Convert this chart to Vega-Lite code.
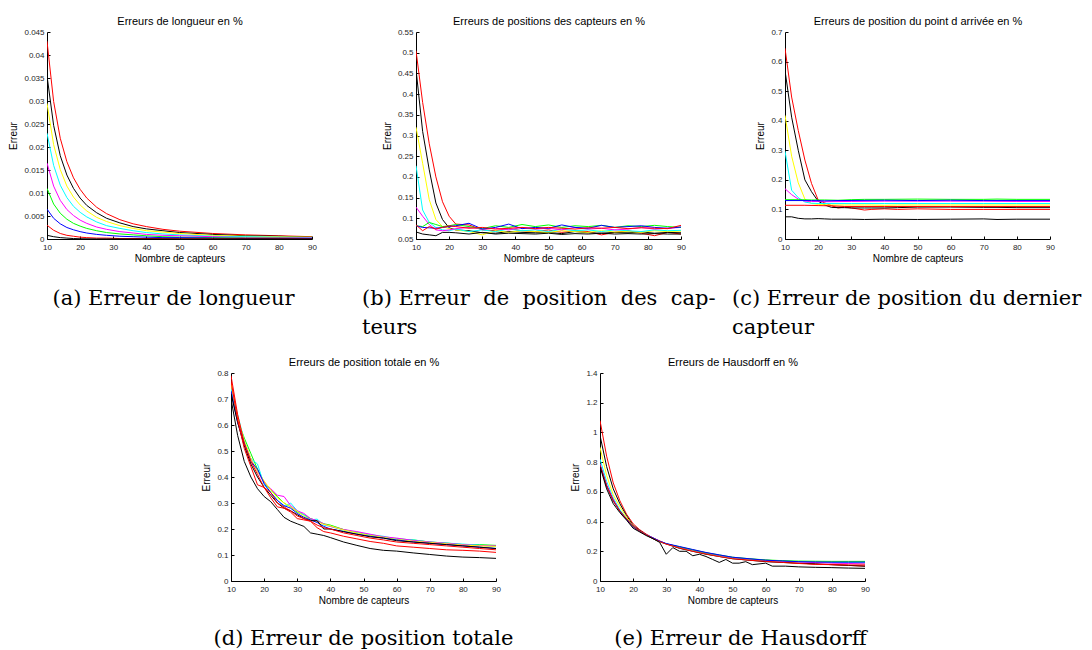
{
"$schema": "https://vega.github.io/schema/vega-lite/v6.json",
"padding": {"left": 8, "top": 15, "right": 0, "bottom": 0},
"background": "white",
"datasets": {
"a": [
{"s":"r1","x":10,"y":0.043},{"s":"r1","x":12,"y":0.0299},{"s":"r1","x":14,"y":0.0219},{"s":"r1","x":16,"y":0.0168},{"s":"r1","x":18,"y":0.0133},{"s":"r1","x":20,"y":0.0108},{"s":"r1","x":22,"y":0.0089},{"s":"r1","x":25,"y":0.0069},{"s":"r1","x":28,"y":0.0055},{"s":"r1","x":32,"y":0.0042},{"s":"r1","x":36,"y":0.0033},{"s":"r1","x":40,"y":0.0027},{"s":"r1","x":45,"y":0.0021},{"s":"r1","x":50,"y":0.0017},{"s":"r1","x":60,"y":0.0012},{"s":"r1","x":70,"y":0.0009},{"s":"r1","x":80,"y":0.0007},{"s":"r1","x":90,"y":0.0005},
{"s":"k1","x":10,"y":0.0355},{"s":"k1","x":12,"y":0.0247},{"s":"k1","x":14,"y":0.0181},{"s":"k1","x":16,"y":0.0139},{"s":"k1","x":18,"y":0.011},{"s":"k1","x":20,"y":0.0089},{"s":"k1","x":22,"y":0.0073},{"s":"k1","x":25,"y":0.0057},{"s":"k1","x":28,"y":0.0045},{"s":"k1","x":32,"y":0.0035},{"s":"k1","x":36,"y":0.0027},{"s":"k1","x":40,"y":0.0022},{"s":"k1","x":45,"y":0.0018},{"s":"k1","x":50,"y":0.0014},{"s":"k1","x":60,"y":0.001},{"s":"k1","x":70,"y":0.0007},{"s":"k1","x":80,"y":0.0006},{"s":"k1","x":90,"y":0.0004},
{"s":"y","x":10,"y":0.0295},{"s":"y","x":12,"y":0.0205},{"s":"y","x":14,"y":0.0151},{"s":"y","x":16,"y":0.0115},{"s":"y","x":18,"y":0.0091},{"s":"y","x":20,"y":0.0074},{"s":"y","x":22,"y":0.0061},{"s":"y","x":25,"y":0.0047},{"s":"y","x":28,"y":0.0038},{"s":"y","x":32,"y":0.0029},{"s":"y","x":36,"y":0.0023},{"s":"y","x":40,"y":0.0018},{"s":"y","x":45,"y":0.0015},{"s":"y","x":50,"y":0.0012},{"s":"y","x":60,"y":0.0008},{"s":"y","x":70,"y":0.0006},{"s":"y","x":80,"y":0.0005},{"s":"y","x":90,"y":0.0004},
{"s":"c","x":10,"y":0.023},{"s":"c","x":12,"y":0.016},{"s":"c","x":14,"y":0.0117},{"s":"c","x":16,"y":0.009},{"s":"c","x":18,"y":0.0071},{"s":"c","x":20,"y":0.0058},{"s":"c","x":22,"y":0.0048},{"s":"c","x":25,"y":0.0037},{"s":"c","x":28,"y":0.0029},{"s":"c","x":32,"y":0.0023},{"s":"c","x":36,"y":0.0018},{"s":"c","x":40,"y":0.0014},{"s":"c","x":45,"y":0.0011},{"s":"c","x":50,"y":0.0009},{"s":"c","x":60,"y":0.0006},{"s":"c","x":70,"y":0.0005},{"s":"c","x":80,"y":0.0004},{"s":"c","x":90,"y":0.0003},
{"s":"m","x":10,"y":0.0165},{"s":"m","x":12,"y":0.0115},{"s":"m","x":14,"y":0.0084},{"s":"m","x":16,"y":0.0064},{"s":"m","x":18,"y":0.0051},{"s":"m","x":20,"y":0.0041},{"s":"m","x":22,"y":0.0034},{"s":"m","x":25,"y":0.0026},{"s":"m","x":28,"y":0.0021},{"s":"m","x":32,"y":0.0016},{"s":"m","x":36,"y":0.0013},{"s":"m","x":40,"y":0.001},{"s":"m","x":45,"y":0.0008},{"s":"m","x":50,"y":0.0007},{"s":"m","x":60,"y":0.0005},{"s":"m","x":70,"y":0.0003},{"s":"m","x":80,"y":0.0003},{"s":"m","x":90,"y":0.0002},
{"s":"g","x":10,"y":0.011},{"s":"g","x":12,"y":0.0076},{"s":"g","x":14,"y":0.0056},{"s":"g","x":16,"y":0.0043},{"s":"g","x":18,"y":0.0034},{"s":"g","x":20,"y":0.0028},{"s":"g","x":22,"y":0.0023},{"s":"g","x":25,"y":0.0018},{"s":"g","x":28,"y":0.0014},{"s":"g","x":32,"y":0.0011},{"s":"g","x":36,"y":0.0009},{"s":"g","x":40,"y":0.0007},{"s":"g","x":45,"y":0.0005},{"s":"g","x":50,"y":0.0004},{"s":"g","x":60,"y":0.0003},{"s":"g","x":70,"y":0.0002},{"s":"g","x":80,"y":0.0002},{"s":"g","x":90,"y":0.0001},
{"s":"b","x":10,"y":0.0065},{"s":"b","x":12,"y":0.0045},{"s":"b","x":14,"y":0.0033},{"s":"b","x":16,"y":0.0025},{"s":"b","x":18,"y":0.002},{"s":"b","x":20,"y":0.0016},{"s":"b","x":22,"y":0.0013},{"s":"b","x":25,"y":0.001},{"s":"b","x":28,"y":0.0008},{"s":"b","x":32,"y":0.0006},{"s":"b","x":36,"y":0.0005},{"s":"b","x":40,"y":0.0004},{"s":"b","x":45,"y":0.0003},{"s":"b","x":50,"y":0.0003},{"s":"b","x":60,"y":0.0002},{"s":"b","x":70,"y":0.0001},{"s":"b","x":80,"y":0.0001},{"s":"b","x":90,"y":0.0001},
{"s":"r2","x":10,"y":0.003},{"s":"r2","x":12,"y":0.0019},{"s":"r2","x":14,"y":0.0012},{"s":"r2","x":16,"y":0.0008},{"s":"r2","x":18,"y":0.0006},{"s":"r2","x":20,"y":0.0004},{"s":"r2","x":22,"y":0.0003},{"s":"r2","x":25,"y":0.0002},{"s":"r2","x":28,"y":0.0002},{"s":"r2","x":32,"y":0.0001},{"s":"r2","x":40,"y":0.0001},{"s":"r2","x":50,"y":0.00005},{"s":"r2","x":70,"y":0.00003},{"s":"r2","x":90,"y":0.00002},
{"s":"k2","x":10,"y":0.0008},{"s":"k2","x":12,"y":0.0005},{"s":"k2","x":14,"y":0.0003},{"s":"k2","x":16,"y":0.0002},{"s":"k2","x":18,"y":0.0001},{"s":"k2","x":20,"y":0.00005},{"s":"k2","x":25,"y":0.00002},{"s":"k2","x":40,"y":0.00001},{"s":"k2","x":90,"y":0}
],
"b": [
{"s":"r1","x":10,"y":0.505},{"s":"r1","x":12,"y":0.38},{"s":"r1","x":14,"y":0.28},{"s":"r1","x":16,"y":0.2},{"s":"r1","x":18,"y":0.14},{"s":"r1","x":20,"y":0.105},{"s":"r1","x":22,"y":0.086},{"s":"r1","x":26,"y":0.084},{"s":"r1","x":30,"y":0.072},{"s":"r1","x":34,"y":0.07},{"s":"r1","x":38,"y":0.075},{"s":"r1","x":42,"y":0.07},{"s":"r1","x":46,"y":0.068},{"s":"r1","x":50,"y":0.072},{"s":"r1","x":54,"y":0.066},{"s":"r1","x":58,"y":0.07},{"s":"r1","x":62,"y":0.068},{"s":"r1","x":66,"y":0.06},{"s":"r1","x":70,"y":0.066},{"s":"r1","x":74,"y":0.07},{"s":"r1","x":78,"y":0.064},{"s":"r1","x":82,"y":0.058},{"s":"r1","x":86,"y":0.066},{"s":"r1","x":90,"y":0.062},
{"s":"k1","x":10,"y":0.46},{"s":"k1","x":12,"y":0.31},{"s":"k1","x":14,"y":0.217},{"s":"k1","x":16,"y":0.137},{"s":"k1","x":18,"y":0.097},{"s":"k1","x":20,"y":0.077},{"s":"k1","x":22,"y":0.072},{"s":"k1","x":26,"y":0.07},{"s":"k1","x":30,"y":0.065},{"s":"k1","x":34,"y":0.064},{"s":"k1","x":38,"y":0.068},{"s":"k1","x":42,"y":0.066},{"s":"k1","x":46,"y":0.065},{"s":"k1","x":50,"y":0.066},{"s":"k1","x":54,"y":0.063},{"s":"k1","x":58,"y":0.068},{"s":"k1","x":62,"y":0.065},{"s":"k1","x":66,"y":0.064},{"s":"k1","x":70,"y":0.066},{"s":"k1","x":74,"y":0.065},{"s":"k1","x":78,"y":0.067},{"s":"k1","x":82,"y":0.064},{"s":"k1","x":86,"y":0.066},{"s":"k1","x":90,"y":0.065},
{"s":"y","x":10,"y":0.32},{"s":"y","x":12,"y":0.233},{"s":"y","x":14,"y":0.145},{"s":"y","x":16,"y":0.097},{"s":"y","x":18,"y":0.08},{"s":"y","x":20,"y":0.075},{"s":"y","x":22,"y":0.072},{"s":"y","x":26,"y":0.068},{"s":"y","x":30,"y":0.06},{"s":"y","x":34,"y":0.07},{"s":"y","x":38,"y":0.066},{"s":"y","x":42,"y":0.07},{"s":"y","x":46,"y":0.068},{"s":"y","x":50,"y":0.066},{"s":"y","x":54,"y":0.07},{"s":"y","x":58,"y":0.068},{"s":"y","x":62,"y":0.066},{"s":"y","x":66,"y":0.07},{"s":"y","x":70,"y":0.067},{"s":"y","x":74,"y":0.068},{"s":"y","x":78,"y":0.066},{"s":"y","x":82,"y":0.07},{"s":"y","x":86,"y":0.068},{"s":"y","x":90,"y":0.069},
{"s":"c","x":10,"y":0.227},{"s":"c","x":12,"y":0.12},{"s":"c","x":14,"y":0.09},{"s":"c","x":16,"y":0.078},{"s":"c","x":18,"y":0.072},{"s":"c","x":20,"y":0.07},{"s":"c","x":22,"y":0.074},{"s":"c","x":26,"y":0.068},{"s":"c","x":30,"y":0.072},{"s":"c","x":34,"y":0.068},{"s":"c","x":38,"y":0.074},{"s":"c","x":42,"y":0.07},{"s":"c","x":46,"y":0.072},{"s":"c","x":50,"y":0.068},{"s":"c","x":54,"y":0.074},{"s":"c","x":58,"y":0.07},{"s":"c","x":62,"y":0.072},{"s":"c","x":66,"y":0.068},{"s":"c","x":70,"y":0.072},{"s":"c","x":74,"y":0.07},{"s":"c","x":78,"y":0.068},{"s":"c","x":82,"y":0.072},{"s":"c","x":86,"y":0.07},{"s":"c","x":90,"y":0.071},
{"s":"m","x":10,"y":0.127},{"s":"m","x":12,"y":0.105},{"s":"m","x":14,"y":0.085},{"s":"m","x":16,"y":0.072},{"s":"m","x":18,"y":0.07},{"s":"m","x":20,"y":0.072},{"s":"m","x":22,"y":0.075},{"s":"m","x":26,"y":0.078},{"s":"m","x":30,"y":0.074},{"s":"m","x":34,"y":0.076},{"s":"m","x":38,"y":0.072},{"s":"m","x":42,"y":0.078},{"s":"m","x":46,"y":0.074},{"s":"m","x":50,"y":0.076},{"s":"m","x":54,"y":0.072},{"s":"m","x":58,"y":0.078},{"s":"m","x":62,"y":0.074},{"s":"m","x":66,"y":0.076},{"s":"m","x":70,"y":0.072},{"s":"m","x":74,"y":0.074},{"s":"m","x":78,"y":0.078},{"s":"m","x":82,"y":0.074},{"s":"m","x":86,"y":0.076},{"s":"m","x":90,"y":0.078},
{"s":"g","x":10,"y":0.082},{"s":"g","x":12,"y":0.08},{"s":"g","x":14,"y":0.09},{"s":"g","x":16,"y":0.085},{"s":"g","x":18,"y":0.08},{"s":"g","x":20,"y":0.082},{"s":"g","x":22,"y":0.085},{"s":"g","x":26,"y":0.08},{"s":"g","x":30,"y":0.075},{"s":"g","x":34,"y":0.082},{"s":"g","x":38,"y":0.078},{"s":"g","x":42,"y":0.085},{"s":"g","x":46,"y":0.08},{"s":"g","x":50,"y":0.084},{"s":"g","x":54,"y":0.078},{"s":"g","x":58,"y":0.082},{"s":"g","x":62,"y":0.08},{"s":"g","x":66,"y":0.083},{"s":"g","x":70,"y":0.078},{"s":"g","x":74,"y":0.082},{"s":"g","x":78,"y":0.08},{"s":"g","x":82,"y":0.083},{"s":"g","x":86,"y":0.08},{"s":"g","x":90,"y":0.078},
{"s":"b","x":10,"y":0.082},{"s":"b","x":12,"y":0.078},{"s":"b","x":14,"y":0.077},{"s":"b","x":16,"y":0.076},{"s":"b","x":18,"y":0.078},{"s":"b","x":20,"y":0.08},{"s":"b","x":22,"y":0.082},{"s":"b","x":26,"y":0.088},{"s":"b","x":30,"y":0.074},{"s":"b","x":34,"y":0.078},{"s":"b","x":38,"y":0.086},{"s":"b","x":42,"y":0.075},{"s":"b","x":46,"y":0.078},{"s":"b","x":50,"y":0.076},{"s":"b","x":54,"y":0.084},{"s":"b","x":58,"y":0.078},{"s":"b","x":62,"y":0.076},{"s":"b","x":66,"y":0.083},{"s":"b","x":70,"y":0.078},{"s":"b","x":74,"y":0.08},{"s":"b","x":78,"y":0.082},{"s":"b","x":82,"y":0.078},{"s":"b","x":86,"y":0.076},{"s":"b","x":90,"y":0.079},
{"s":"r2","x":10,"y":0.084},{"s":"r2","x":12,"y":0.07},{"s":"r2","x":14,"y":0.08},{"s":"r2","x":16,"y":0.074},{"s":"r2","x":18,"y":0.078},{"s":"r2","x":20,"y":0.082},{"s":"r2","x":22,"y":0.08},{"s":"r2","x":26,"y":0.076},{"s":"r2","x":30,"y":0.078},{"s":"r2","x":34,"y":0.074},{"s":"r2","x":38,"y":0.076},{"s":"r2","x":42,"y":0.078},{"s":"r2","x":46,"y":0.075},{"s":"r2","x":50,"y":0.078},{"s":"r2","x":54,"y":0.076},{"s":"r2","x":58,"y":0.074},{"s":"r2","x":62,"y":0.077},{"s":"r2","x":66,"y":0.076},{"s":"r2","x":70,"y":0.078},{"s":"r2","x":74,"y":0.075},{"s":"r2","x":78,"y":0.077},{"s":"r2","x":82,"y":0.076},{"s":"r2","x":86,"y":0.075},{"s":"r2","x":90,"y":0.083},
{"s":"k2","x":10,"y":0.067},{"s":"k2","x":12,"y":0.062},{"s":"k2","x":14,"y":0.06},{"s":"k2","x":16,"y":0.058},{"s":"k2","x":18,"y":0.066},{"s":"k2","x":20,"y":0.066},{"s":"k2","x":22,"y":0.065},{"s":"k2","x":26,"y":0.062},{"s":"k2","x":30,"y":0.066},{"s":"k2","x":34,"y":0.062},{"s":"k2","x":38,"y":0.064},{"s":"k2","x":42,"y":0.063},{"s":"k2","x":46,"y":0.062},{"s":"k2","x":50,"y":0.064},{"s":"k2","x":54,"y":0.061},{"s":"k2","x":58,"y":0.063},{"s":"k2","x":62,"y":0.062},{"s":"k2","x":66,"y":0.064},{"s":"k2","x":70,"y":0.062},{"s":"k2","x":74,"y":0.063},{"s":"k2","x":78,"y":0.062},{"s":"k2","x":82,"y":0.063},{"s":"k2","x":86,"y":0.062},{"s":"k2","x":90,"y":0.062}
],
"c": [
{"s":"r1","x":10,"y":0.645},{"s":"r1","x":12,"y":0.48},{"s":"r1","x":14,"y":0.367},{"s":"r1","x":16,"y":0.267},{"s":"r1","x":18,"y":0.188},{"s":"r1","x":20,"y":0.132},{"s":"r1","x":22,"y":0.122},{"s":"r1","x":24,"y":0.113},{"s":"r1","x":26,"y":0.105},{"s":"r1","x":28,"y":0.108},{"s":"r1","x":30,"y":0.105},{"s":"r1","x":34,"y":0.098},{"s":"r1","x":36,"y":0.1},{"s":"r1","x":40,"y":0.102},{"s":"r1","x":44,"y":0.1},{"s":"r1","x":50,"y":0.102},{"s":"r1","x":60,"y":0.1},{"s":"r1","x":70,"y":0.1},{"s":"r1","x":74,"y":0.1},{"s":"r1","x":80,"y":0.1},{"s":"r1","x":90,"y":0.1},
{"s":"k1","x":10,"y":0.57},{"s":"k1","x":12,"y":0.412},{"s":"k1","x":14,"y":0.3},{"s":"k1","x":16,"y":0.2},{"s":"k1","x":18,"y":0.16},{"s":"k1","x":20,"y":0.128},{"s":"k1","x":22,"y":0.115},{"s":"k1","x":24,"y":0.107},{"s":"k1","x":26,"y":0.106},{"s":"k1","x":28,"y":0.106},{"s":"k1","x":30,"y":0.105},{"s":"k1","x":34,"y":0.105},{"s":"k1","x":36,"y":0.105},{"s":"k1","x":40,"y":0.105},{"s":"k1","x":44,"y":0.106},{"s":"k1","x":50,"y":0.108},{"s":"k1","x":60,"y":0.108},{"s":"k1","x":70,"y":0.107},{"s":"k1","x":74,"y":0.107},{"s":"k1","x":80,"y":0.106},{"s":"k1","x":90,"y":0.106},
{"s":"y","x":10,"y":0.418},{"s":"y","x":12,"y":0.28},{"s":"y","x":14,"y":0.19},{"s":"y","x":16,"y":0.135},{"s":"y","x":18,"y":0.12},{"s":"y","x":20,"y":0.117},{"s":"y","x":22,"y":0.116},{"s":"y","x":24,"y":0.115},{"s":"y","x":26,"y":0.115},{"s":"y","x":28,"y":0.115},{"s":"y","x":30,"y":0.115},{"s":"y","x":34,"y":0.115},{"s":"y","x":36,"y":0.115},{"s":"y","x":40,"y":0.114},{"s":"y","x":44,"y":0.115},{"s":"y","x":50,"y":0.115},{"s":"y","x":60,"y":0.115},{"s":"y","x":70,"y":0.115},{"s":"y","x":74,"y":0.115},{"s":"y","x":80,"y":0.115},{"s":"y","x":90,"y":0.115},
{"s":"c","x":10,"y":0.297},{"s":"c","x":12,"y":0.165},{"s":"c","x":14,"y":0.14},{"s":"c","x":16,"y":0.125},{"s":"c","x":18,"y":0.121},{"s":"c","x":20,"y":0.12},{"s":"c","x":30,"y":0.12},{"s":"c","x":40,"y":0.12},{"s":"c","x":50,"y":0.12},{"s":"c","x":60,"y":0.12},{"s":"c","x":70,"y":0.12},{"s":"c","x":80,"y":0.12},{"s":"c","x":90,"y":0.12},
{"s":"m","x":10,"y":0.17},{"s":"m","x":12,"y":0.15},{"s":"m","x":14,"y":0.135},{"s":"m","x":16,"y":0.128},{"s":"m","x":18,"y":0.127},{"s":"m","x":20,"y":0.127},{"s":"m","x":22,"y":0.126},{"s":"m","x":30,"y":0.127},{"s":"m","x":40,"y":0.128},{"s":"m","x":50,"y":0.128},{"s":"m","x":60,"y":0.128},{"s":"m","x":70,"y":0.128},{"s":"m","x":80,"y":0.127},{"s":"m","x":90,"y":0.127},
{"s":"g","x":10,"y":0.133},{"s":"g","x":14,"y":0.133},{"s":"g","x":18,"y":0.132},{"s":"g","x":22,"y":0.132},{"s":"g","x":26,"y":0.131},{"s":"g","x":30,"y":0.133},{"s":"g","x":34,"y":0.134},{"s":"g","x":40,"y":0.134},{"s":"g","x":50,"y":0.135},{"s":"g","x":60,"y":0.134},{"s":"g","x":70,"y":0.134},{"s":"g","x":74,"y":0.135},{"s":"g","x":80,"y":0.134},{"s":"g","x":90,"y":0.134},
{"s":"b","x":10,"y":0.13},{"s":"b","x":18,"y":0.13},{"s":"b","x":22,"y":0.129},{"s":"b","x":26,"y":0.13},{"s":"b","x":40,"y":0.131},{"s":"b","x":50,"y":0.13},{"s":"b","x":60,"y":0.131},{"s":"b","x":70,"y":0.13},{"s":"b","x":90,"y":0.13},
{"s":"r2","x":10,"y":0.114},{"s":"r2","x":16,"y":0.114},{"s":"r2","x":20,"y":0.113},{"s":"r2","x":24,"y":0.112},{"s":"r2","x":28,"y":0.11},{"s":"r2","x":40,"y":0.11},{"s":"r2","x":60,"y":0.11},{"s":"r2","x":90,"y":0.11},
{"s":"k2","x":10,"y":0.075},{"s":"k2","x":12,"y":0.075},{"s":"k2","x":14,"y":0.07},{"s":"k2","x":16,"y":0.068},{"s":"k2","x":18,"y":0.068},{"s":"k2","x":20,"y":0.069},{"s":"k2","x":22,"y":0.068},{"s":"k2","x":24,"y":0.067},{"s":"k2","x":30,"y":0.067},{"s":"k2","x":34,"y":0.066},{"s":"k2","x":40,"y":0.067},{"s":"k2","x":50,"y":0.066},{"s":"k2","x":60,"y":0.067},{"s":"k2","x":70,"y":0.068},{"s":"k2","x":74,"y":0.066},{"s":"k2","x":80,"y":0.067},{"s":"k2","x":90,"y":0.067}
],
"d": [
{"s":"g","x":10,"y":0.75},{"s":"g","x":12,"y":0.62},{"s":"g","x":14,"y":0.55},{"s":"g","x":16,"y":0.49},{"s":"g","x":18,"y":0.43},{"s":"g","x":20,"y":0.38},{"s":"g","x":22,"y":0.35},{"s":"g","x":24,"y":0.325},{"s":"g","x":26,"y":0.3},{"s":"g","x":28,"y":0.285},{"s":"g","x":30,"y":0.265},{"s":"g","x":32,"y":0.255},{"s":"g","x":34,"y":0.24},{"s":"g","x":36,"y":0.232},{"s":"g","x":38,"y":0.22},{"s":"g","x":40,"y":0.215},{"s":"g","x":44,"y":0.198},{"s":"g","x":48,"y":0.186},{"s":"g","x":52,"y":0.176},{"s":"g","x":56,"y":0.168},{"s":"g","x":60,"y":0.162},{"s":"g","x":65,"y":0.158},{"s":"g","x":70,"y":0.15},{"s":"g","x":75,"y":0.146},{"s":"g","x":80,"y":0.14},{"s":"g","x":85,"y":0.14},{"s":"g","x":90,"y":0.137},
{"s":"c","x":10,"y":0.74},{"s":"c","x":12,"y":0.64},{"s":"c","x":14,"y":0.54},{"s":"c","x":16,"y":0.47},{"s":"c","x":18,"y":0.45},{"s":"c","x":20,"y":0.37},{"s":"c","x":22,"y":0.34},{"s":"c","x":24,"y":0.31},{"s":"c","x":26,"y":0.285},{"s":"c","x":28,"y":0.3},{"s":"c","x":30,"y":0.27},{"s":"c","x":32,"y":0.255},{"s":"c","x":34,"y":0.235},{"s":"c","x":36,"y":0.238},{"s":"c","x":38,"y":0.215},{"s":"c","x":40,"y":0.21},{"s":"c","x":44,"y":0.195},{"s":"c","x":48,"y":0.188},{"s":"c","x":52,"y":0.178},{"s":"c","x":56,"y":0.172},{"s":"c","x":60,"y":0.162},{"s":"c","x":65,"y":0.158},{"s":"c","x":70,"y":0.15},{"s":"c","x":75,"y":0.146},{"s":"c","x":80,"y":0.142},{"s":"c","x":85,"y":0.138},{"s":"c","x":90,"y":0.132},
{"s":"m","x":10,"y":0.76},{"s":"m","x":12,"y":0.63},{"s":"m","x":14,"y":0.53},{"s":"m","x":16,"y":0.47},{"s":"m","x":18,"y":0.42},{"s":"m","x":20,"y":0.38},{"s":"m","x":22,"y":0.355},{"s":"m","x":24,"y":0.33},{"s":"m","x":26,"y":0.325},{"s":"m","x":28,"y":0.29},{"s":"m","x":30,"y":0.27},{"s":"m","x":32,"y":0.26},{"s":"m","x":34,"y":0.24},{"s":"m","x":36,"y":0.232},{"s":"m","x":38,"y":0.22},{"s":"m","x":40,"y":0.21},{"s":"m","x":44,"y":0.198},{"s":"m","x":48,"y":0.19},{"s":"m","x":52,"y":0.18},{"s":"m","x":56,"y":0.17},{"s":"m","x":60,"y":0.165},{"s":"m","x":65,"y":0.156},{"s":"m","x":70,"y":0.15},{"s":"m","x":75,"y":0.145},{"s":"m","x":80,"y":0.14},{"s":"m","x":85,"y":0.136},{"s":"m","x":90,"y":0.135},
{"s":"y","x":10,"y":0.76},{"s":"y","x":12,"y":0.63},{"s":"y","x":14,"y":0.54},{"s":"y","x":16,"y":0.47},{"s":"y","x":18,"y":0.42},{"s":"y","x":20,"y":0.385},{"s":"y","x":22,"y":0.35},{"s":"y","x":24,"y":0.32},{"s":"y","x":26,"y":0.3},{"s":"y","x":28,"y":0.285},{"s":"y","x":30,"y":0.268},{"s":"y","x":32,"y":0.25},{"s":"y","x":34,"y":0.235},{"s":"y","x":36,"y":0.228},{"s":"y","x":38,"y":0.218},{"s":"y","x":40,"y":0.212},{"s":"y","x":44,"y":0.196},{"s":"y","x":48,"y":0.185},{"s":"y","x":52,"y":0.175},{"s":"y","x":56,"y":0.168},{"s":"y","x":60,"y":0.16},{"s":"y","x":65,"y":0.153},{"s":"y","x":70,"y":0.148},{"s":"y","x":75,"y":0.143},{"s":"y","x":80,"y":0.138},{"s":"y","x":85,"y":0.135},{"s":"y","x":90,"y":0.133},
{"s":"b","x":10,"y":0.73},{"s":"b","x":12,"y":0.61},{"s":"b","x":14,"y":0.53},{"s":"b","x":16,"y":0.46},{"s":"b","x":18,"y":0.43},{"s":"b","x":20,"y":0.375},{"s":"b","x":22,"y":0.34},{"s":"b","x":24,"y":0.31},{"s":"b","x":26,"y":0.29},{"s":"b","x":28,"y":0.28},{"s":"b","x":30,"y":0.26},{"s":"b","x":32,"y":0.245},{"s":"b","x":34,"y":0.235},{"s":"b","x":36,"y":0.225},{"s":"b","x":38,"y":0.21},{"s":"b","x":40,"y":0.2},{"s":"b","x":44,"y":0.19},{"s":"b","x":48,"y":0.18},{"s":"b","x":52,"y":0.172},{"s":"b","x":56,"y":0.165},{"s":"b","x":60,"y":0.158},{"s":"b","x":65,"y":0.15},{"s":"b","x":70,"y":0.145},{"s":"b","x":75,"y":0.14},{"s":"b","x":80,"y":0.135},{"s":"b","x":85,"y":0.13},{"s":"b","x":90,"y":0.125},
{"s":"k1","x":10,"y":0.72},{"s":"k1","x":12,"y":0.61},{"s":"k1","x":14,"y":0.52},{"s":"k1","x":16,"y":0.45},{"s":"k1","x":18,"y":0.4},{"s":"k1","x":20,"y":0.36},{"s":"k1","x":22,"y":0.33},{"s":"k1","x":24,"y":0.3},{"s":"k1","x":26,"y":0.28},{"s":"k1","x":28,"y":0.27},{"s":"k1","x":30,"y":0.255},{"s":"k1","x":32,"y":0.24},{"s":"k1","x":34,"y":0.232},{"s":"k1","x":36,"y":0.232},{"s":"k1","x":38,"y":0.2},{"s":"k1","x":40,"y":0.2},{"s":"k1","x":44,"y":0.19},{"s":"k1","x":48,"y":0.18},{"s":"k1","x":52,"y":0.17},{"s":"k1","x":56,"y":0.165},{"s":"k1","x":60,"y":0.155},{"s":"k1","x":65,"y":0.15},{"s":"k1","x":70,"y":0.145},{"s":"k1","x":75,"y":0.14},{"s":"k1","x":80,"y":0.135},{"s":"k1","x":85,"y":0.13},{"s":"k1","x":90,"y":0.125},
{"s":"r1","x":10,"y":0.79},{"s":"r1","x":12,"y":0.64},{"s":"r1","x":14,"y":0.53},{"s":"r1","x":16,"y":0.46},{"s":"r1","x":18,"y":0.41},{"s":"r1","x":20,"y":0.36},{"s":"r1","x":22,"y":0.34},{"s":"r1","x":24,"y":0.3},{"s":"r1","x":26,"y":0.285},{"s":"r1","x":28,"y":0.27},{"s":"r1","x":30,"y":0.25},{"s":"r1","x":32,"y":0.24},{"s":"r1","x":34,"y":0.23},{"s":"r1","x":36,"y":0.215},{"s":"r1","x":38,"y":0.205},{"s":"r1","x":40,"y":0.2},{"s":"r1","x":44,"y":0.185},{"s":"r1","x":48,"y":0.175},{"s":"r1","x":52,"y":0.165},{"s":"r1","x":56,"y":0.158},{"s":"r1","x":60,"y":0.15},{"s":"r1","x":65,"y":0.145},{"s":"r1","x":70,"y":0.14},{"s":"r1","x":75,"y":0.135},{"s":"r1","x":80,"y":0.13},{"s":"r1","x":85,"y":0.125},{"s":"r1","x":90,"y":0.12},
{"s":"r2","x":10,"y":0.77},{"s":"r2","x":12,"y":0.62},{"s":"r2","x":14,"y":0.51},{"s":"r2","x":16,"y":0.44},{"s":"r2","x":18,"y":0.37},{"s":"r2","x":20,"y":0.36},{"s":"r2","x":22,"y":0.32},{"s":"r2","x":24,"y":0.285},{"s":"r2","x":26,"y":0.28},{"s":"r2","x":28,"y":0.265},{"s":"r2","x":30,"y":0.24},{"s":"r2","x":32,"y":0.235},{"s":"r2","x":34,"y":0.23},{"s":"r2","x":36,"y":0.205},{"s":"r2","x":38,"y":0.19},{"s":"r2","x":40,"y":0.185},{"s":"r2","x":44,"y":0.172},{"s":"r2","x":48,"y":0.162},{"s":"r2","x":52,"y":0.152},{"s":"r2","x":56,"y":0.145},{"s":"r2","x":60,"y":0.135},{"s":"r2","x":65,"y":0.13},{"s":"r2","x":70,"y":0.125},{"s":"r2","x":75,"y":0.12},{"s":"r2","x":80,"y":0.118},{"s":"r2","x":85,"y":0.115},{"s":"r2","x":90,"y":0.11},
{"s":"k2","x":10,"y":0.7},{"s":"k2","x":12,"y":0.56},{"s":"k2","x":14,"y":0.46},{"s":"k2","x":16,"y":0.4},{"s":"k2","x":18,"y":0.355},{"s":"k2","x":20,"y":0.325},{"s":"k2","x":22,"y":0.305},{"s":"k2","x":24,"y":0.275},{"s":"k2","x":26,"y":0.245},{"s":"k2","x":28,"y":0.23},{"s":"k2","x":30,"y":0.22},{"s":"k2","x":32,"y":0.21},{"s":"k2","x":34,"y":0.185},{"s":"k2","x":36,"y":0.18},{"s":"k2","x":38,"y":0.175},{"s":"k2","x":40,"y":0.167},{"s":"k2","x":44,"y":0.15},{"s":"k2","x":48,"y":0.137},{"s":"k2","x":52,"y":0.125},{"s":"k2","x":56,"y":0.118},{"s":"k2","x":60,"y":0.115},{"s":"k2","x":65,"y":0.108},{"s":"k2","x":70,"y":0.102},{"s":"k2","x":75,"y":0.096},{"s":"k2","x":80,"y":0.092},{"s":"k2","x":85,"y":0.09},{"s":"k2","x":90,"y":0.087}
],
"e": [
{"s":"r1","x":10,"y":1.08},{"s":"r1","x":12,"y":0.84},{"s":"r1","x":14,"y":0.66},{"s":"r1","x":16,"y":0.54},{"s":"r1","x":18,"y":0.45},{"s":"r1","x":20,"y":0.385},{"s":"r1","x":22,"y":0.345},{"s":"r1","x":24,"y":0.315},{"s":"r1","x":26,"y":0.29},{"s":"r1","x":28,"y":0.27},{"s":"r1","x":30,"y":0.25},{"s":"r1","x":34,"y":0.225},{"s":"r1","x":38,"y":0.205},{"s":"r1","x":42,"y":0.185},{"s":"r1","x":46,"y":0.17},{"s":"r1","x":50,"y":0.155},{"s":"r1","x":55,"y":0.145},{"s":"r1","x":60,"y":0.138},{"s":"r1","x":65,"y":0.128},{"s":"r1","x":70,"y":0.12},{"s":"r1","x":75,"y":0.115},{"s":"r1","x":80,"y":0.11},{"s":"r1","x":85,"y":0.105},{"s":"r1","x":90,"y":0.1},
{"s":"k1","x":10,"y":0.98},{"s":"k1","x":12,"y":0.77},{"s":"k1","x":14,"y":0.62},{"s":"k1","x":16,"y":0.52},{"s":"k1","x":18,"y":0.44},{"s":"k1","x":20,"y":0.375},{"s":"k1","x":22,"y":0.34},{"s":"k1","x":24,"y":0.31},{"s":"k1","x":26,"y":0.285},{"s":"k1","x":28,"y":0.265},{"s":"k1","x":30,"y":0.25},{"s":"k1","x":34,"y":0.22},{"s":"k1","x":38,"y":0.2},{"s":"k1","x":42,"y":0.18},{"s":"k1","x":46,"y":0.165},{"s":"k1","x":50,"y":0.15},{"s":"k1","x":55,"y":0.14},{"s":"k1","x":60,"y":0.13},{"s":"k1","x":65,"y":0.125},{"s":"k1","x":70,"y":0.12},{"s":"k1","x":75,"y":0.115},{"s":"k1","x":80,"y":0.11},{"s":"k1","x":85,"y":0.105},{"s":"k1","x":90,"y":0.1},
{"s":"y","x":10,"y":0.9},{"s":"y","x":12,"y":0.71},{"s":"y","x":14,"y":0.58},{"s":"y","x":16,"y":0.5},{"s":"y","x":18,"y":0.43},{"s":"y","x":20,"y":0.37},{"s":"y","x":22,"y":0.335},{"s":"y","x":24,"y":0.31},{"s":"y","x":26,"y":0.285},{"s":"y","x":28,"y":0.265},{"s":"y","x":30,"y":0.25},{"s":"y","x":34,"y":0.225},{"s":"y","x":38,"y":0.205},{"s":"y","x":42,"y":0.185},{"s":"y","x":46,"y":0.168},{"s":"y","x":50,"y":0.155},{"s":"y","x":55,"y":0.145},{"s":"y","x":60,"y":0.138},{"s":"y","x":65,"y":0.132},{"s":"y","x":70,"y":0.128},{"s":"y","x":75,"y":0.125},{"s":"y","x":80,"y":0.122},{"s":"y","x":85,"y":0.12},{"s":"y","x":90,"y":0.12},
{"s":"c","x":10,"y":0.82},{"s":"c","x":12,"y":0.67},{"s":"c","x":14,"y":0.56},{"s":"c","x":16,"y":0.48},{"s":"c","x":18,"y":0.42},{"s":"c","x":20,"y":0.37},{"s":"c","x":22,"y":0.335},{"s":"c","x":24,"y":0.31},{"s":"c","x":26,"y":0.285},{"s":"c","x":28,"y":0.265},{"s":"c","x":30,"y":0.25},{"s":"c","x":34,"y":0.228},{"s":"c","x":38,"y":0.207},{"s":"c","x":42,"y":0.188},{"s":"c","x":46,"y":0.17},{"s":"c","x":50,"y":0.157},{"s":"c","x":55,"y":0.147},{"s":"c","x":60,"y":0.14},{"s":"c","x":65,"y":0.134},{"s":"c","x":70,"y":0.13},{"s":"c","x":75,"y":0.127},{"s":"c","x":80,"y":0.125},{"s":"c","x":85,"y":0.123},{"s":"c","x":90,"y":0.122},
{"s":"m","x":10,"y":0.79},{"s":"m","x":12,"y":0.65},{"s":"m","x":14,"y":0.55},{"s":"m","x":16,"y":0.47},{"s":"m","x":18,"y":0.415},{"s":"m","x":20,"y":0.365},{"s":"m","x":22,"y":0.335},{"s":"m","x":24,"y":0.31},{"s":"m","x":26,"y":0.29},{"s":"m","x":28,"y":0.268},{"s":"m","x":30,"y":0.25},{"s":"m","x":34,"y":0.228},{"s":"m","x":38,"y":0.208},{"s":"m","x":42,"y":0.19},{"s":"m","x":46,"y":0.172},{"s":"m","x":50,"y":0.158},{"s":"m","x":55,"y":0.148},{"s":"m","x":60,"y":0.14},{"s":"m","x":65,"y":0.133},{"s":"m","x":70,"y":0.128},{"s":"m","x":75,"y":0.124},{"s":"m","x":80,"y":0.12},{"s":"m","x":85,"y":0.118},{"s":"m","x":90,"y":0.115},
{"s":"g","x":10,"y":0.78},{"s":"g","x":12,"y":0.64},{"s":"g","x":14,"y":0.54},{"s":"g","x":16,"y":0.47},{"s":"g","x":18,"y":0.415},{"s":"g","x":20,"y":0.365},{"s":"g","x":22,"y":0.335},{"s":"g","x":24,"y":0.31},{"s":"g","x":26,"y":0.288},{"s":"g","x":28,"y":0.267},{"s":"g","x":30,"y":0.25},{"s":"g","x":34,"y":0.23},{"s":"g","x":38,"y":0.21},{"s":"g","x":42,"y":0.19},{"s":"g","x":46,"y":0.175},{"s":"g","x":50,"y":0.16},{"s":"g","x":55,"y":0.15},{"s":"g","x":60,"y":0.142},{"s":"g","x":65,"y":0.137},{"s":"g","x":70,"y":0.134},{"s":"g","x":75,"y":0.133},{"s":"g","x":80,"y":0.132},{"s":"g","x":85,"y":0.132},{"s":"g","x":90,"y":0.132},
{"s":"b","x":10,"y":0.78},{"s":"b","x":12,"y":0.64},{"s":"b","x":14,"y":0.54},{"s":"b","x":16,"y":0.47},{"s":"b","x":18,"y":0.415},{"s":"b","x":20,"y":0.365},{"s":"b","x":22,"y":0.335},{"s":"b","x":24,"y":0.31},{"s":"b","x":26,"y":0.29},{"s":"b","x":28,"y":0.268},{"s":"b","x":30,"y":0.252},{"s":"b","x":34,"y":0.232},{"s":"b","x":38,"y":0.212},{"s":"b","x":42,"y":0.192},{"s":"b","x":46,"y":0.176},{"s":"b","x":50,"y":0.16},{"s":"b","x":55,"y":0.15},{"s":"b","x":60,"y":0.14},{"s":"b","x":65,"y":0.135},{"s":"b","x":70,"y":0.13},{"s":"b","x":75,"y":0.128},{"s":"b","x":80,"y":0.127},{"s":"b","x":85,"y":0.127},{"s":"b","x":90,"y":0.127},
{"s":"r2","x":10,"y":0.78},{"s":"r2","x":12,"y":0.64},{"s":"r2","x":14,"y":0.54},{"s":"r2","x":16,"y":0.47},{"s":"r2","x":18,"y":0.42},{"s":"r2","x":20,"y":0.37},{"s":"r2","x":22,"y":0.335},{"s":"r2","x":24,"y":0.31},{"s":"r2","x":26,"y":0.285},{"s":"r2","x":28,"y":0.265},{"s":"r2","x":30,"y":0.248},{"s":"r2","x":34,"y":0.222},{"s":"r2","x":38,"y":0.2},{"s":"r2","x":42,"y":0.182},{"s":"r2","x":46,"y":0.165},{"s":"r2","x":50,"y":0.15},{"s":"r2","x":55,"y":0.14},{"s":"r2","x":60,"y":0.132},{"s":"r2","x":65,"y":0.125},{"s":"r2","x":70,"y":0.118},{"s":"r2","x":75,"y":0.112},{"s":"r2","x":80,"y":0.11},{"s":"r2","x":85,"y":0.108},{"s":"r2","x":90,"y":0.108},
{"s":"k2","x":10,"y":0.77},{"s":"k2","x":12,"y":0.62},{"s":"k2","x":14,"y":0.52},{"s":"k2","x":16,"y":0.46},{"s":"k2","x":18,"y":0.41},{"s":"k2","x":20,"y":0.355},{"s":"k2","x":22,"y":0.33},{"s":"k2","x":24,"y":0.305},{"s":"k2","x":26,"y":0.285},{"s":"k2","x":28,"y":0.26},{"s":"k2","x":30,"y":0.18},{"s":"k2","x":32,"y":0.225},{"s":"k2","x":34,"y":0.2},{"s":"k2","x":36,"y":0.2},{"s":"k2","x":38,"y":0.17},{"s":"k2","x":40,"y":0.18},{"s":"k2","x":42,"y":0.165},{"s":"k2","x":44,"y":0.145},{"s":"k2","x":46,"y":0.125},{"s":"k2","x":48,"y":0.145},{"s":"k2","x":50,"y":0.12},{"s":"k2","x":52,"y":0.12},{"s":"k2","x":54,"y":0.13},{"s":"k2","x":56,"y":0.11},{"s":"k2","x":58,"y":0.115},{"s":"k2","x":60,"y":0.12},{"s":"k2","x":62,"y":0.1},{"s":"k2","x":66,"y":0.1},{"s":"k2","x":70,"y":0.095},{"s":"k2","x":75,"y":0.092},{"s":"k2","x":80,"y":0.09},{"s":"k2","x":85,"y":0.087},{"s":"k2","x":90,"y":0.085}
]
},
"vconcat": [
{"hconcat": [
 {"title": {"text": "(a) Erreur de longueur", "orient": "bottom", "anchor": "middle", "frame": "group", "dx": -6},
  "width": 265, "height": 207,
  "data": {"name": "a"},
  "layer": [
   {"mark": {"type": "line", "strokeWidth": 1, "clip": true},
    "encoding": {
     "x": {"field": "x", "type": "quantitative", "scale": {"domain": [10, 90], "nice": false}, "axis": {"orient": "bottom", "values": [10,20,30,40,50,60,70,80,90], "title": "Nombre de capteurs"}},
     "y": {"field": "y", "type": "quantitative", "scale": {"domain": [0, 0.045], "nice": false}, "axis": {"values": [0,0.005,0.01,0.015,0.02,0.025,0.03,0.035,0.04,0.045], "format": "~g", "title": "Erreur"}},
     "color": {"field": "s", "type": "nominal", "scale": {"domain": ["r1","k1","y","c","m","g","b","r2","k2"], "range": ["#ff0000","#000000","#ffff00","#00ffff","#ff00ff","#00ff00","#0000ff","#ff0000","#000000"]}, "legend": null}}},
   {"mark": {"type": "point", "opacity": 0},
    "encoding": {
     "x": {"field": "x", "type": "quantitative", "axis": {"orient": "top", "title": "Erreurs de longueur en %", "labels": false, "ticks": false, "domain": false, "titleFontSize": 11, "titlePadding": 6}}}}
  ],
  "resolve": {"axis": {"x": "independent"}}
 },
 {"title": {"text": ["(b) Erreur\u00a0 de\u00a0 position\u00a0 des\u00a0 cap-", "teurs"], "orient": "bottom", "anchor": "start", "frame": "group", "dx": -54},
  "width": 265, "height": 207,
  "data": {"name": "b"},
  "layer": [
   {"mark": {"type": "line", "strokeWidth": 1, "clip": true},
    "encoding": {
     "x": {"field": "x", "type": "quantitative", "scale": {"domain": [10, 90], "nice": false}, "axis": {"orient": "bottom", "values": [10,20,30,40,50,60,70,80,90], "title": "Nombre de capteurs"}},
     "y": {"field": "y", "type": "quantitative", "scale": {"domain": [0.05, 0.55], "nice": false, "zero": false}, "axis": {"values": [0.05,0.1,0.15,0.2,0.25,0.3,0.35,0.4,0.45,0.5,0.55], "format": "~g", "title": "Erreur"}},
     "color": {"field": "s", "type": "nominal", "scale": {"domain": ["r1","k1","y","c","m","g","b","r2","k2"], "range": ["#ff0000","#000000","#ffff00","#00ffff","#ff00ff","#00ff00","#0000ff","#ff0000","#000000"]}, "legend": null}}},
   {"mark": {"type": "point", "opacity": 0},
    "encoding": {
     "x": {"field": "x", "type": "quantitative", "axis": {"orient": "top", "title": "Erreurs de positions des capteurs en %", "labels": false, "ticks": false, "domain": false, "titleFontSize": 11, "titlePadding": 6}}}}
  ],
  "resolve": {"axis": {"x": "independent"}}
 },
 {"title": {"text": ["(c) Erreur de position du dernier", "capteur"], "orient": "bottom", "anchor": "start", "frame": "group", "dx": -53},
  "width": 265, "height": 207,
  "data": {"name": "c"},
  "layer": [
   {"mark": {"type": "line", "strokeWidth": 1, "clip": true},
    "encoding": {
     "x": {"field": "x", "type": "quantitative", "scale": {"domain": [10, 90], "nice": false}, "axis": {"orient": "bottom", "values": [10,20,30,40,50,60,70,80,90], "title": "Nombre de capteurs"}},
     "y": {"field": "y", "type": "quantitative", "scale": {"domain": [0, 0.7], "nice": false}, "axis": {"values": [0,0.1,0.2,0.3,0.4,0.5,0.6,0.7], "format": "~g", "title": "Erreur"}},
     "color": {"field": "s", "type": "nominal", "scale": {"domain": ["r1","k1","y","c","m","g","b","r2","k2"], "range": ["#ff0000","#000000","#ffff00","#00ffff","#ff00ff","#00ff00","#0000ff","#ff0000","#000000"]}, "legend": null}}},
   {"mark": {"type": "point", "opacity": 0},
    "encoding": {
     "x": {"field": "x", "type": "quantitative", "axis": {"orient": "top", "title": "Erreurs de position du point d arrivée en %", "labels": false, "ticks": false, "domain": false, "titleFontSize": 11, "titlePadding": 6}}}}
  ],
  "resolve": {"axis": {"x": "independent"}}
 }
], "spacing": 104, "bounds": "flush"},
{"hconcat": [
 {"width": 80, "height": 1, "data": {"values": []}, "mark": {"type": "point", "opacity": 0}},
 {"title": {"text": "(d) Erreur de position totale", "orient": "bottom", "anchor": "middle", "frame": "group", "offset": 23},
  "width": 265, "height": 208,
  "data": {"name": "d"},
  "layer": [
   {"mark": {"type": "line", "strokeWidth": 1, "clip": true},
    "encoding": {
     "x": {"field": "x", "type": "quantitative", "scale": {"domain": [10, 90], "nice": false}, "axis": {"orient": "bottom", "values": [10,20,30,40,50,60,70,80,90], "title": "Nombre de capteurs"}},
     "y": {"field": "y", "type": "quantitative", "scale": {"domain": [0, 0.8], "nice": false}, "axis": {"values": [0,0.1,0.2,0.3,0.4,0.5,0.6,0.7,0.8], "format": "~g", "title": "Erreur"}},
     "color": {"field": "s", "type": "nominal", "scale": {"domain": ["r1","k1","y","c","m","g","b","r2","k2"], "range": ["#ff0000","#000000","#ffff00","#00ffff","#ff00ff","#00ff00","#0000ff","#ff0000","#000000"]}, "legend": null}}},
   {"mark": {"type": "point", "opacity": 0},
    "encoding": {
     "x": {"field": "x", "type": "quantitative", "axis": {"orient": "top", "title": "Erreurs de position totale en %", "labels": false, "ticks": false, "domain": false, "titleFontSize": 11, "titlePadding": 6}}}}
  ],
  "resolve": {"axis": {"x": "independent"}}
 },
 {"title": {"text": "(e) Erreur de Hausdorff", "orient": "bottom", "anchor": "middle", "frame": "group", "dx": 8, "offset": 23},
  "width": 265, "height": 208,
  "data": {"name": "e"},
  "layer": [
   {"mark": {"type": "line", "strokeWidth": 1, "clip": true},
    "encoding": {
     "x": {"field": "x", "type": "quantitative", "scale": {"domain": [10, 90], "nice": false}, "axis": {"orient": "bottom", "values": [10,20,30,40,50,60,70,80,90], "title": "Nombre de capteurs"}},
     "y": {"field": "y", "type": "quantitative", "scale": {"domain": [0, 1.4], "nice": false}, "axis": {"values": [0,0.2,0.4,0.6,0.8,1,1.2,1.4], "format": "~g", "title": "Erreur"}},
     "color": {"field": "s", "type": "nominal", "scale": {"domain": ["r1","k1","y","c","m","g","b","r2","k2"], "range": ["#ff0000","#000000","#ffff00","#00ffff","#ff00ff","#00ff00","#0000ff","#ff0000","#000000"]}, "legend": null}}},
   {"mark": {"type": "point", "opacity": 0},
    "encoding": {
     "x": {"field": "x", "type": "quantitative", "axis": {"orient": "top", "title": "Erreurs de Hausdorff en %", "labels": false, "ticks": false, "domain": false, "titleFontSize": 11, "titlePadding": 6}}}}
  ],
  "resolve": {"axis": {"x": "independent"}}
 }
], "spacing": 104, "bounds": "flush"}
],
"spacing": 18,
"config": {
 "view": {"stroke": null},
 "axis": {"grid": false, "domainColor": "#000", "domainWidth": 1, "tickColor": "#000", "tickSize": -3, "labelPadding": 6, "labelFont": "Liberation Sans", "labelFontSize": 8, "labelColor": "#262626", "titleFont": "Liberation Sans", "titleFontSize": 10, "titleFontWeight": "normal", "titleColor": "#000", "labelFlush": false, "labelOverlap": false, "titlePadding": 5},
 "axisX": {"labelPadding": 7, "titlePadding": 2},
 "title": {"font": "DejaVu Serif", "fontSize": 21, "fontWeight": "normal", "color": "#000", "offset": 25, "lineHeight": 29}
}
}
